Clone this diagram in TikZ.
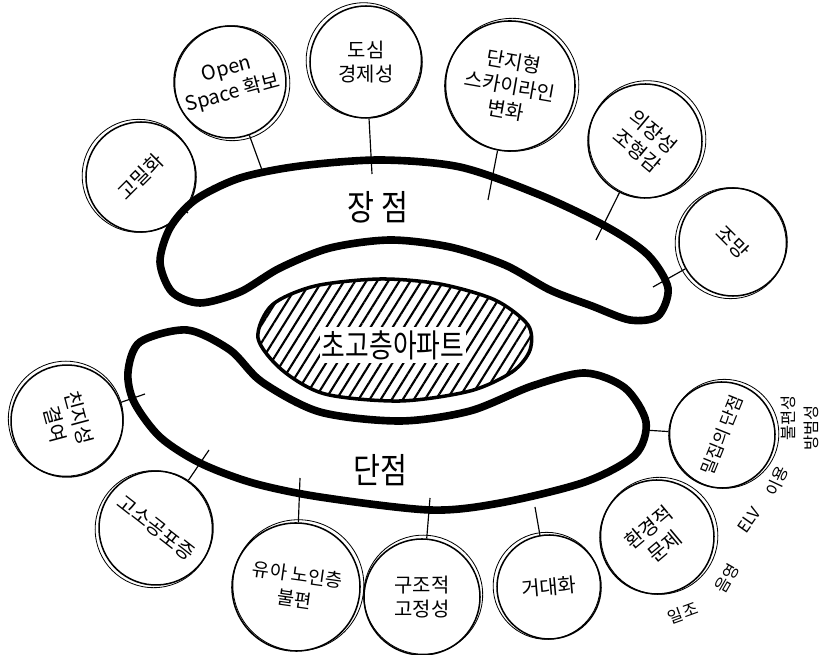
\documentclass[tikz,border=0pt]{standalone}
\usepackage{fontspec}
\newfontfamily\kr{Noto Sans CJK KR}
\usetikzlibrary{patterns.meta}

\tikzset{
  bubble/.style={circle,draw,line width=1.3pt,inner sep=0pt,align=center,font=\kr\fontsize{17}{21}\selectfont},
  rim/.style={line width=0.7pt},
  band/.style={line width=6.5pt,line join=round},
  stem/.style={line width=1pt},
  bigword/.style={font=\kr\fontsize{25}{28}\selectfont,yscale=1.2},
  aside/.style={font=\kr\fontsize{14}{16}\selectfont,inner sep=0pt}
}

\begin{document}
\begin{tikzpicture}[x=0.03cm,y=-0.03cm]
\useasboundingbox (0,0) rectangle (828,655);

% core
\draw[line width=3pt,pattern={Lines[angle=58,distance=8pt,line width=1.8pt]}]
  plot[smooth cycle] coordinates {(258,338) (272,305) (315,286) (380,279) (440,284) (495,300) (528,325) (530,350) (512,372) (470,391) (400,401) (325,394) (282,370)};
\node[fill=white,inner sep=2pt,font=\kr\fontsize{22}{24}\selectfont,yscale=1.25] (core) at (393,345) {초고층아파트};

% bands
\draw[band] plot[smooth cycle] coordinates {(160,262) (170,228) (195,200) (240,178) (300,166) (380,160) (460,167) (540,195) (607,227) (648,255) (668,288) (658,316) (630,320) (592,306) (550,290) (505,265) (450,247) (390,240) (330,248) (280,268) (240,292) (200,303) (172,292)};
\draw[band] plot[smooth cycle] coordinates {(128,372) (140,342) (187,330) (230,350) (262,382) (320,412) (400,421) (470,411) (532,386) (585,373) (625,388) (646,422) (635,455) (585,482) (500,503) (430,510) (320,497) (253,483) (200,463) (160,437) (134,402)};
\node[bigword] (plus) at (378,207) {장 점};
\node[bigword] (minus) at (380,470) {단점};

% merits
\node[bubble,minimum size=3.3cm,rotate=45] (gomil) at (141,177) {고밀화};
\node[bubble,minimum size=3.36cm,rotate=15] (open) at (230,82) {Open\\Space 확보};
\node[bubble,minimum size=3.36cm] (dosim) at (366,62) {도심\\경제성};
\node[bubble,minimum size=3.9cm,rotate=-10] (danji) at (510,86) {단지형\\스카이라인\\변화};
\node[bubble,minimum size=3.42cm,rotate=-40] (uijang) at (645,141) {의장성\\조형감};
\node[bubble,minimum size=3.24cm,rotate=-45] (jomang) at (733,242) {조망};

% demerits
\node[bubble,minimum size=3.36cm,rotate=-75] (chinji) at (67,421) {친지성\\결여};
\node[bubble,minimum size=3.42cm,rotate=-38] (goso) at (156,528) {고소공포증};
\node[bubble,minimum size=3.84cm,rotate=-8,font=\kr\fontsize{16}{21}\selectfont] (yua) at (296,587) {유아 노인층\\불편};
\node[bubble,minimum size=3.48cm] (gujo) at (422,597) {구조적\\고정성};
\node[bubble,minimum size=3.12cm,rotate=5] (geodae) at (549,587) {거대화};
\node[bubble,minimum size=3.42cm,rotate=40] (hwan) at (657,537) {환경적\\문제};
\node[bubble,minimum size=3.18cm,rotate=68,font=\kr\fontsize{15}{18}\selectfont] (miljip) at (722,435) {밀집의 단점};

% second pencil line
\foreach \n/\r/\dx/\dy in {gomil/55/-2/1, open/56/2/-1, dosim/56/-2/1.5, danji/65/2/1, uijang/57/2/1.5,
    jomang/54/-2/-1, chinji/56/-1/2, goso/57/-2/-1, yua/64/2/1.5, gujo/58/1/2, geodae/52/-2/1,
    hwan/57/2/1, miljip/53/2/1}
  \draw[rim] ([shift={(\dx pt,\dy pt)}]\n.center) circle [radius={(\r+1.5)*0.03cm}];

% stems
\coordinate (s1) at (188,213);
\coordinate (s2) at (262,170);
\coordinate (s3) at (372,174);
\coordinate (s4) at (488,200);
\coordinate (s5) at (596,240);
\coordinate (s6) at (653,287);
\coordinate (s7) at (145,394);
\coordinate (s8) at (209,450);
\coordinate (s9) at (300,478);
\coordinate (s10) at (430,498);
\coordinate (s11) at (535,507);
\coordinate (s12) at (644,430);
\draw[stem] (gomil) -- (s1);
\draw[stem] (open) -- (s2);
\draw[stem] (dosim) -- (s3);
\draw[stem] (danji) -- (s4);
\draw[stem] (uijang) -- (s5);
\draw[stem] (jomang) -- (s6);
\draw[stem] (chinji) -- (s7);
\draw[stem] (goso) -- (s8);
\draw[stem] (yua) -- (s9);
\draw[stem] (gujo) -- (s10);
\draw[stem] (geodae) -- (s11);
\draw[stem] (miljip) -- (s12);

% side notes
\node[aside,rotate=20] (iljo) at (683,613) {일조};
\node[aside,rotate=60] (eumyeong) at (727,578) {음영};
\node[aside,rotate=55] (elv) at (749,520) {ELV};
\node[aside,rotate=65] (iyong) at (777,481) {이용};
\node[aside,rotate=90] (bulpyeon) at (788,418) {불편성};
\node[aside,rotate=90] (bangbeom) at (811,428) {방범성};

\end{tikzpicture}
\end{document}
